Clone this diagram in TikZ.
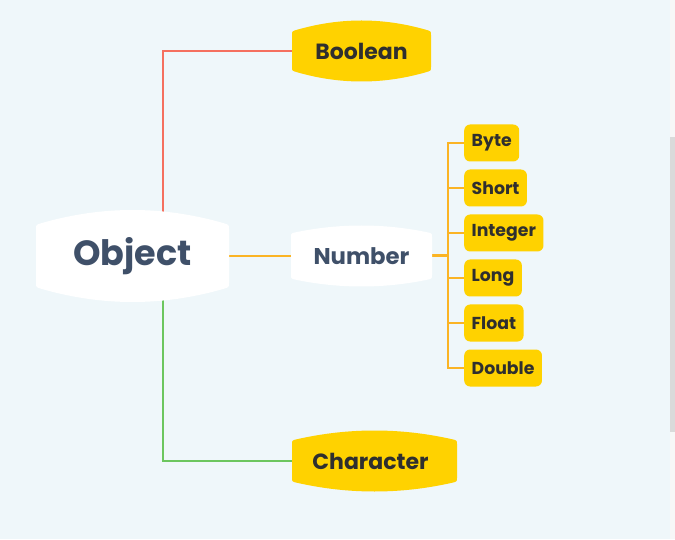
\documentclass[tikz,border=0pt]{standalone}
\usepackage{fontspec}
\setmainfont{Poppins}
\usetikzlibrary{positioning,calc}

\definecolor{fond}{HTML}{EFF7FA}
\definecolor{jaune}{HTML}{FFD200}
\definecolor{encre}{HTML}{2F2F2F}
\definecolor{ardoise}{HTML}{3F5069}
\definecolor{rouge}{HTML}{F5705F}
\definecolor{vert}{HTML}{6CC65E}
\definecolor{orangeL}{HTML}{FBB424}
\definecolor{barre}{HTML}{F7F7F7}
\definecolor{curseur}{HTML}{DADADA}

\pgfdeclarelayer{arriere}
\pgfdeclarelayer{liens}
\pgfsetlayers{arriere,liens,main}

\tikzset{
	racine/.style={font=\bfseries\fontsize{35}{35}\selectfont, text=ardoise, minimum width=193pt, minimum height=62pt, inner sep=0pt},
	branche/.style={font=\bfseries\fontsize{22}{22}\selectfont, text=encre, inner sep=0pt},
	feuille/.style={fill=jaune, rounded corners=6pt, font=\bfseries\fontsize{17.3}{17.3}\selectfont, text=encre, minimum height=37pt, inner xsep=7.5pt, inner ysep=0pt, anchor=west},
	lien/.style={line width=2pt}
}

% forme bombee : #1,#2 centre, #3 demi-largeur, #4 demi-cote droit,
% #5 hauteur apres le coin, #6 demi-hauteur totale, #7 couleur
\newcommand{\bombe}[7]{%
	\begin{scope}[shift={(#1,#2)}]
		\pgfmathsetmacro\bomC{#5-12*(#6-#5)/(#3-6)}
		\pgfmathsetmacro\bomK{#5+4*(#6-#5)/3}
		\pgfmathsetmacro\bomX{(#3-6)/3}
		\fill[#7] (-#3,#4) -- (-#3,-#4)
		.. controls (-#3,-\bomC) .. (-#3+6,-#5)
		.. controls (-\bomX,-\bomK) and (\bomX,-\bomK) .. (#3-6,-#5)
		.. controls (#3,-\bomC) .. (#3,-#4) -- (#3,#4)
		.. controls (#3,\bomC) .. (#3-6,#5)
		.. controls (\bomX,\bomK) and (-\bomX,\bomK) .. (-#3+6,#5)
		.. controls (-#3,\bomC) .. cycle;
	\end{scope}}

\begin{document}
\begin{tikzpicture}[x=1pt,y=1pt]
	\useasboundingbox (0,0) rectangle (675,539);
	\begin{pgfonlayer}{arriere}
		\fill[fond] (0,0) rectangle (675,539);
		%barre de defilement
		\fill[barre] (670,0) rectangle (675,539);
		\fill[curseur] (670,107) rectangle (675,402);
	\end{pgfonlayer}
	
	%Formes
	\bombe{132.5}{283}{96.5}{27}{33}{46}{white}
	\bombe{361.5}{488}{69.5}{16}{21.5}{30.5}{jaune}
	\bombe{361.5}{283}{70.5}{19}{24}{30.5}{white}
	\bombe{374.5}{78}{82.5}{17}{22}{30.5}{jaune}
	
	%Noeuds
	\node[racine] (objet) at (132.5,283) {Object};
	\node[branche, minimum width=139pt, minimum height=38pt] (booleen) at (361.5,488) {Boolean};
	\node[branche, text=ardoise, font=\bfseries\fontsize{22.8}{22.8}\selectfont, minimum width=141pt, minimum height=44pt] (nombre) at (361.5,283) {Number};
	\node[branche, minimum width=165pt, minimum height=42pt] (caractere) at (370.5,78) {Character};
	
	%Feuilles
	\foreach \nom/\texte/\y in {byte/Byte/396, short/Short/351, integer/Integer/306, long/Long/261, float/Float/216, double/Double/171}
		\node[feuille] (\nom) at (464,\y) {\texte};
	
	%Liens
	\begin{pgfonlayer}{liens}
		\draw[lien, rouge] ([xshift=30.5pt]objet.north) |- (booleen.west);
		\draw[lien, vert] ([xshift=30.5pt]objet.south) |- ([xshift=4pt]caractere.west);
		\draw[lien, orangeL] (objet.east) -- (nombre.west);
		\draw[orangeL, line width=3pt] (nombre.east) -- ++(16,0) coordinate (noeud);
		\foreach \nom in {byte,short,integer,long,float,double}
			\draw[lien, orangeL] (noeud) |- (\nom.west);
	\end{pgfonlayer}
\end{tikzpicture}
\end{document}
